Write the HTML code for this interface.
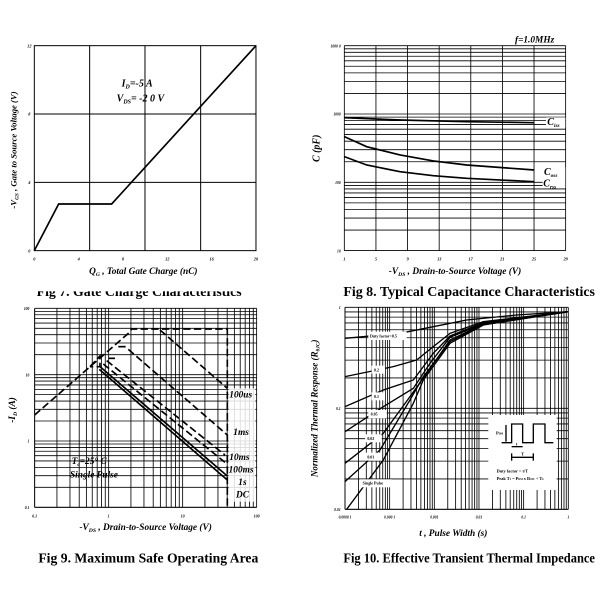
<!DOCTYPE html>
<html><head><meta charset="utf-8"><style>
html,body{margin:0;padding:0;background:#fff;width:600px;height:600px;overflow:hidden}
svg{display:block}
text{font-family:"Liberation Serif",serif;fill:#000}
.t{font-weight:bold;font-style:italic}
</style></head><body>
<svg id="s" width="600" height="600" viewBox="0 0 600 600" xmlns="http://www.w3.org/2000/svg">
<rect width="600" height="600" fill="#fff"/>
<!-- FIG 7 -->
<g transform="translate(0,30) scale(0.3333)" id="f7">
 <g stroke="#000" stroke-width="3" fill="none">
  <rect x="103" y="47" width="665" height="615"/>
  <line x1="269" y1="47" x2="269" y2="662"/><line x1="435" y1="47" x2="435" y2="662"/>
  <line x1="602" y1="47" x2="602" y2="662"/>
  <line x1="103" y1="252" x2="768" y2="252"/><line x1="103" y1="457" x2="768" y2="457"/>
  <polyline stroke-width="5" points="103,662 176,522 335,522 768,47"/>
 </g>
 <g font-size="13" font-weight="bold" font-style="italic" text-anchor="middle">
  <text x="103" y="692">0</text><text x="236" y="692">4</text><text x="369" y="692">8</text>
  <text x="502" y="692">12</text><text x="635" y="692">16</text><text x="768" y="692">20</text>
  <text x="88" y="52">12</text><text x="88" y="257">8</text><text x="88" y="462">4</text><text x="88" y="667">0</text>
 </g>
 <text class="t" x="365" y="170" font-size="30">I<tspan font-size="18" dy="6">D</tspan><tspan dy="-6">=-5 A</tspan></text>
 <text class="t" x="350" y="215" font-size="30">V<tspan font-size="18" dy="6">DS</tspan><tspan dy="-6">= -2 0 V</tspan></text>
 <text class="t" x="430" y="732" font-size="28" text-anchor="middle">Q<tspan font-size="17" dy="6">G</tspan><tspan dy="-6"> , Total Gate Charge (nC)</tspan></text>
 <text class="t" transform="translate(50,360) rotate(-90)" font-size="26" text-anchor="middle">-V<tspan font-size="16" dy="6">GS</tspan><tspan dy="-6"> , Gate to Source Voltage (V)</tspan></text>
 <text x="110" y="798" font-size="42" font-weight="bold" textLength="615" lengthAdjust="spacingAndGlyphs">Fig 7. Gate Charge Characteristics</text>
 <rect x="90" y="740" width="700" height="44" fill="#fff"/>
</g>
<!-- FIG 8 -->
<g transform="translate(300,30) scale(0.3333)" id="f8">
 <g id="g8" stroke="#000" stroke-width="2.5" fill="none"></g>
 <g stroke="#000" stroke-width="5" fill="none">
  <polyline points="133,263 300,270 500,275 703,278"/>
  <polyline points="133,320 200,350 300,375 400,393 500,405 703,420"/>
  <polyline points="133,380 200,405 300,425 400,437 500,445 703,455"/>
 </g>
 <g font-size="11" font-weight="bold" font-style="italic">
  <g text-anchor="end"><text x="122" y="52">1000 0</text><text x="122" y="257">1000</text><text x="122" y="462">100</text><text x="122" y="667">10</text></g>
  <g text-anchor="middle" font-size="13"><text x="133" y="692">1</text><text x="228" y="692">5</text><text x="323" y="692">9</text><text x="418" y="692">13</text><text x="512" y="692">17</text><text x="607" y="692">21</text><text x="702" y="692">25</text><text x="797" y="692">29</text></g>
 </g>
 <text class="t" x="645" y="38" font-size="28">f=1.0MHz</text>
 <rect x="738" y="262" width="58" height="30" fill="#fff"/>
 <text class="t" x="742" y="285" font-size="30">C<tspan font-size="16" dy="6">iss</tspan></text>
 <rect x="728" y="412" width="68" height="62" fill="#fff"/>
 <text class="t" x="732" y="435" font-size="30">C<tspan font-size="16" dy="6">oss</tspan></text>
 <text class="t" x="730" y="470" font-size="30">C<tspan font-size="16" dy="6">rss</tspan></text>
 <text class="t" x="465" y="732" font-size="28" text-anchor="middle">-V<tspan font-size="17" dy="6">DS</tspan><tspan dy="-6"> , Drain-to-Source Voltage (V)</tspan></text>
 <text class="t" transform="translate(58,355) rotate(-90)" font-size="30" text-anchor="middle">C (pF)</text>
 <text x="130" y="798" font-size="42" font-weight="bold" textLength="755" lengthAdjust="spacingAndGlyphs">Fig 8. Typical Capacitance Characteristics</text>
</g>
<!-- FIG 9 -->
<g transform="translate(0,300) scale(0.3333)" id="f9">
 <g id="g9" stroke="#000" stroke-width="2.5" fill="none"></g>
 <g stroke="#000" stroke-width="5" fill="none" stroke-dasharray="22,10">
  <polyline points="104,345 385,100 395,87 682,87 682,622"/>
  <polyline points="480,90 682,265"/>
  <polyline points="355,140 380,140"/><polyline points="385,148 682,405"/>
  <polyline points="325,175 345,175"/><polyline points="320,182 675,465"/>
  <polyline points="310,192 675,487"/>
  <polyline points="270,200 300,168 300,200 270,200"/>
 </g>
 <g stroke="#000" stroke-width="5" fill="none">
  <polyline points="300,200 682,528"/><polyline points="298,208 682,540"/>
 </g>
 <g font-size="11" font-weight="bold" font-style="italic">
  <g text-anchor="end"><text x="88" y="30">100</text><text x="88" y="229">10</text><text x="88" y="428">1</text><text x="88" y="627">0.1</text></g>
  <g text-anchor="middle" font-size="12"><text x="104" y="652">0.1</text><text x="326" y="652">1</text><text x="548" y="652">10</text><text x="770" y="652">100</text></g>
 </g>
 <g class="t" font-size="28">
  <rect x="686" y="265" width="80" height="340" fill="#fff" opacity="0.85"/>
  <text x="688" y="292">100us</text><text x="700" y="405">1ms</text><text x="688" y="480">10ms</text>
  <text x="686" y="518">100ms</text><text x="715" y="555">1s</text><text x="708" y="592">DC</text>
  <text x="215" y="492">T<tspan font-size="16" dy="6">c</tspan><tspan dy="-6">=25° C</tspan></text>
  <text x="210" y="532">Single  Pulse</text>
 </g>
 <text class="t" x="437" y="690" font-size="28" text-anchor="middle">-V<tspan font-size="17" dy="6">DS</tspan><tspan dy="-6"> , Drain-to-Source Voltage (V)</tspan></text>
 <text class="t" transform="translate(45,330) rotate(-90)" font-size="28" text-anchor="middle">-I<tspan font-size="17" dy="6">D</tspan><tspan dy="-6"> (A)</tspan></text>
 <text x="115" y="788" font-size="42" font-weight="bold" textLength="660" lengthAdjust="spacingAndGlyphs">Fig 9. Maximum Safe Operating Area</text>
</g>
<!-- FIG 10 -->
<g transform="translate(300,300) scale(0.3333)" id="f10">
 <g id="g10" stroke="#000" stroke-width="2.5" fill="none"></g>
 <g stroke="#000" stroke-width="4" fill="none">
  <polyline points="135,115 300,100 400,80 500,60 650,45 805,35"/>
  <polyline points="135,230 280,200 350,180 400,140 450,100 550,65 805,35"/>
  <polyline points="135,320 250,270 340,240 400,160 450,108 550,68 805,35"/>
  <polyline points="135,395 250,320 340,265 390,190 450,112 550,70 805,35"/>
  <polyline points="135,490 250,400 330,290 380,220 450,120 550,72 805,35"/>
  <polyline points="135,545 240,450 330,300 370,230 450,125 550,74 805,35"/>
  <polyline points="140,628 250,480 340,310 370,240 450,130 550,75 805,35"/>
 </g>
 <rect x="565" y="345" width="205" height="225" fill="#fff"/>
 <g stroke="#000" stroke-width="4" fill="none">
  <polyline points="605,428 635,428 635,372 668,372 668,428 700,428 700,372 735,372 735,428 760,428"/>
  <line x1="618" y1="375" x2="618" y2="425"/><line x1="635" y1="440" x2="668" y2="440"/><line x1="635" y1="472" x2="700" y2="472"/>
  <line x1="635" y1="460" x2="635" y2="482"/><line x1="700" y1="460" x2="700" y2="482"/>
 </g>
 <g font-size="13" font-weight="bold">
  <text x="588" y="403">P<tspan font-size="8">DM</tspan></text><text x="648" y="436">t</text><text x="664" y="466">T</text>
  <text x="590" y="518">Duty factor = t/T</text>
  <text x="590" y="540">Peak T<tspan font-size="8">J</tspan> = P<tspan font-size="8">DM</tspan> x R<tspan font-size="8">θJC</tspan> + T<tspan font-size="8">C</tspan></text>
 </g>
 <g font-size="12" font-weight="bold">
  <rect x="205" y="95" width="115" height="25" fill="#fff"/><text x="210" y="113">Duty factor=0.5</text>
  <rect x="215" y="197" width="40" height="24" fill="#fff"/><text x="222" y="214">0.2</text>
  <rect x="215" y="277" width="40" height="24" fill="#fff"/><text x="222" y="294">0.1</text>
  <rect x="205" y="330" width="55" height="25" fill="#fff"/><text x="212" y="347">0.05</text>
  <rect x="195" y="403" width="50" height="24" fill="#fff"/><text x="202" y="420">0.02</text>
  <rect x="195" y="458" width="50" height="24" fill="#fff"/><text x="202" y="475">0.01</text>
  <rect x="180" y="538" width="95" height="24" fill="#fff"/><text x="188" y="554">Single Pulse</text>
 </g>
 <g font-size="11" font-weight="bold" font-style="italic">
  <g text-anchor="end"><text x="122" y="27">1</text><text x="122" y="330">0.1</text><text x="122" y="633">0.01</text></g>
  <g text-anchor="middle"><text x="135" y="655">0.0000 1</text><text x="269" y="655">0.000 1</text><text x="403" y="655">0.001</text><text x="537" y="655">0.01</text><text x="671" y="655">0.1</text><text x="805" y="655">1</text></g>
 </g>
 <text class="t" x="460" y="708" font-size="28" text-anchor="middle">t , Pulse Width (s)</text>
 <text class="t" transform="translate(52,325) rotate(-90)" font-size="27" text-anchor="middle">Normalized Thermal Response (R<tspan font-size="16" dy="6">θJC</tspan><tspan dy="-6">)</tspan></text>
 <text x="130" y="788" font-size="42" font-weight="bold" textLength="755" lengthAdjust="spacingAndGlyphs">Fig 10. Effective Transient Thermal Impedance</text>
</g>
</svg>
<script>
var NS="http://www.w3.org/2000/svg";
function L(g,x1,y1,x2,y2){var l=document.createElementNS(NS,"line");l.setAttribute("x1",x1);l.setAttribute("y1",y1);l.setAttribute("x2",x2);l.setAttribute("y2",y2);g.appendChild(l);}
var mins=[];for(var k=1;k<=9;k++)mins.push(Math.log10(k));
var g=document.getElementById("g8");
L(g,133,47,797,47);L(g,133,662,797,662);L(g,133,47,133,662);L(g,797,47,797,662);
for(var i=1;i<7;i++){var x=133+94.857*i;L(g,x,47,x,662);}
for(var d=0;d<3;d++)for(var k=0;k<9;k++){var y=662-205*(d+mins[k]);L(g,133,y,797,y);}
g=document.getElementById("g9");
L(g,104,25,770,25);L(g,104,622,770,622);L(g,104,25,104,622);L(g,770,25,770,622);
for(var d=0;d<3;d++)for(var k=0;k<9;k++){var x=104+222*(d+mins[k]);L(g,x,25,x,622);var y=622-199*(d+mins[k]);L(g,104,y,770,y);}
g=document.getElementById("g10");
L(g,135,22,805,22);L(g,135,628,805,628);L(g,135,22,135,628);L(g,805,22,805,628);
for(var d=0;d<5;d++)for(var k=0;k<9;k++){var x=135+134*(d+mins[k]);L(g,x,22,x,628);}
for(var d=0;d<2;d++)for(var k=0;k<9;k++){var y=628-303*(d+mins[k]);L(g,135,y,805,y);}
</script>
</body></html>
